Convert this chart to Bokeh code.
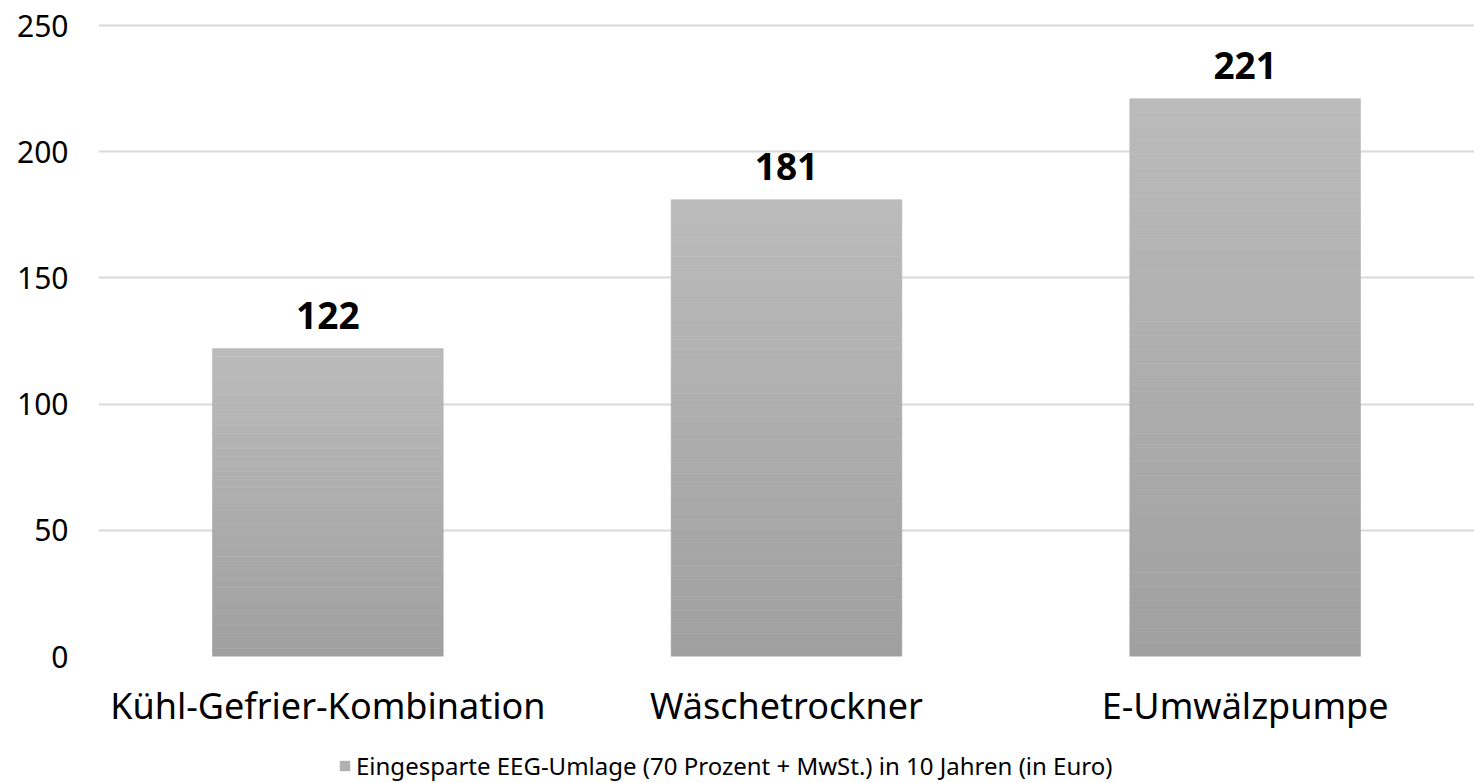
from bokeh.plotting import figure
from bokeh.layouts import column
from bokeh.models import ColumnDataSource, Legend, LegendItem, FixedTicker, Range1d
from bokeh.core.properties import value
from bokeh.embed import file_html
from bokeh.resources import INLINE

categories = ["Kühl-Gefrier-Kombination", "Wäschetrockner", "E-Umwälzpumpe"]
values = [122, 181, 221]
series_name = "Eingesparte EEG-Umlage (70 Prozent + MwSt.) in 10 Jahren (in Euro)"
y_ticks = [0, 50, 100, 150, 200, 250]

FONT = "Noto Sans"

p = figure(x_range=categories, y_range=Range1d(0, 252),
           width=1474, height=747,
           output_backend="svg", toolbar_location=None,
           min_border_left=98, min_border_right=0, min_border_top=20,
           min_border_bottom=91)
p.outline_line_color = None

# gradient bars: stacked segments from each bar's own value
N = 40
lo = (0xa0, 0xa0, 0xa0)
hi = (0xbb, 0xbb, 0xbb)
xs, bots, tops, cols = [], [], [], []
for c, v in zip(categories, values):
    for i in range(N):
        t = (i + 0.5) / N
        rgb = tuple(int(round(a + (b - a) * t)) for a, b in zip(lo, hi))
        xs.append(c)
        bots.append(v * i / N)
        tops.append(v * (i + 1) / N)
        cols.append("#%02x%02x%02x" % rgb)
src = ColumnDataSource(dict(x=xs, bottom=bots, top=tops, color=cols))
p.vbar(x="x", bottom="bottom", top="top", width=0.503, source=src,
       fill_color="color", line_color="color", line_width=0.6)

lab = ColumnDataSource(dict(x=categories, y=values, t=[str(v) for v in values]))
p.text(x="x", y="y", text="t", source=lab, text_font=value(FONT),
       text_font_size="37px", text_font_style="bold", text_color="#000000",
       text_align="center", text_baseline="bottom", y_offset=-20)

p.yaxis.ticker = FixedTicker(ticks=y_ticks)
p.yaxis.axis_line_color = None
p.yaxis.major_tick_line_color = None
p.yaxis.minor_tick_line_color = None
p.yaxis.major_tick_out = 0
p.yaxis.major_label_text_font = FONT
p.yaxis.major_label_text_font_size = "30px"
p.yaxis.major_label_text_color = "#000000"
p.yaxis.major_label_standoff = 30

p.xaxis.axis_line_color = None
p.xaxis.major_tick_line_color = None
p.xaxis.major_label_text_font = FONT
p.xaxis.major_label_text_font_size = "36px"
p.xaxis.major_label_text_color = "#000000"
p.xaxis.major_label_standoff = 18

p.xgrid.grid_line_color = None
p.ygrid.grid_line_color = "#d9d9d9"
p.ygrid.grid_line_width = 2

# legend strip below the chart
lg = figure(width=1474, height=36, x_range=Range1d(0, 1), y_range=Range1d(0, 1),
            x_axis_type=None, y_axis_type=None,
            output_backend="svg", toolbar_location=None,
            min_border_left=0, min_border_right=0, min_border_top=0,
            min_border_bottom=0)
lg.outline_line_color = None
lg.xgrid.visible = False
lg.ygrid.visible = False
proxy = lg.vbar(x=[5], top=[1], width=0.5, fill_color="#b0b0b0", line_color=None)

legend = Legend(items=[LegendItem(label=series_name, renderers=[proxy])],
                orientation="horizontal", location=(240, 1),
                label_text_font=FONT, label_text_font_size="24px",
                label_text_color="#000000", border_line_color=None,
                background_fill_alpha=0,
                glyph_width=13, glyph_height=13, label_standoff=5,
                padding=0, margin=0, spacing=0)
lg.add_layout(legend, "center")

layout = column(p, lg, spacing=0)
open("out.html", "w").write(file_html(layout, INLINE))
